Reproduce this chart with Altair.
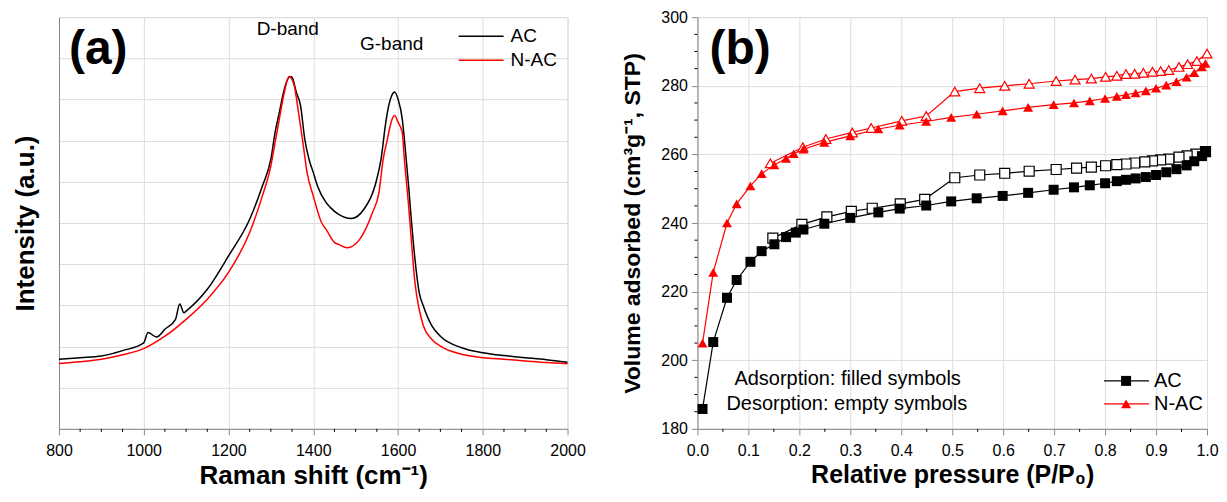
import altair as alt
import pandas as pd

FONT = "Liberation Sans"

# ---------------- (a) Raman spectra ----------------
raman_shift_ac = [800, 850, 900, 950, 1000, 1010, 1030, 1050, 1075, 1085, 1095, 1100, 1150, 1200,
                  1250, 1280, 1300, 1310, 1320, 1330, 1340, 1345, 1350, 1360, 1370, 1380, 1390,
                  1400, 1410, 1430, 1440, 1460, 1490, 1520, 1550, 1560, 1570, 1575, 1585, 1592,
                  1600, 1610, 1615, 1625, 1630, 1640, 1650, 1660, 1680, 1700, 1750, 1800, 1850,
                  1900, 1950, 2000]
intensity_ac = [16.9, 17.3, 17.7, 19.0, 20.9, 23.4, 22.3, 24.2, 26.6, 30.3, 28.2, 28.6, 33.9, 42.0,
                50.9, 59.0, 65.5, 72.0, 76.9, 81.8, 85.0, 85.6, 85.4, 81.8, 78.5, 70.4, 65.5,
                62.3, 59.0, 55.0, 53.8, 52.1, 51.1, 53.4, 60.7, 65.5, 73.6, 76.9, 80.9, 81.8,
                80.1, 75.3, 70.4, 59.0, 52.6, 41.2, 33.1, 29.8, 25.0, 22.5, 19.7, 18.5, 17.8,
                17.3, 16.8, 16.2]

raman_shift_nac = [800, 850, 900, 950, 1000, 1050, 1100, 1150, 1200, 1250, 1280, 1300, 1310, 1320,
                   1330, 1343, 1355, 1365, 1375, 1385, 1400, 1420, 1430, 1450, 1460, 1480, 1510,
                   1540, 1555, 1565, 1575, 1585, 1592, 1600, 1610, 1615, 1625, 1630, 1640, 1650,
                   1660, 1680, 1700, 1750, 1800, 1850, 1900, 1950, 2000]
intensity_nac = [15.9, 16.3, 16.9, 18.0, 19.5, 22.5, 26.6, 31.5, 38.0, 47.7, 56.6, 63.9, 69.6, 75.3,
                 80.9, 85.6, 83.4, 77.0, 70.0, 62.5, 56.6, 50.0, 48.5, 45.3, 44.8, 44.0, 46.1,
                 52.6, 57.4, 65.5, 70.4, 74.9, 76.1, 74.5, 72.0, 65.5, 54.2, 47.7, 35.5, 29.0,
                 25.0, 21.7, 20.1, 18.1, 17.3, 16.9, 16.5, 16.1, 15.8]

raman_minor_ticks = [850, 900, 950, 1050, 1100, 1150, 1250, 1300, 1350, 1450, 1500, 1550,
                     1650, 1700, 1750, 1850, 1900, 1950]

# ---------------- (b) N2 isotherms ----------------
p_ac_ads = [0.010, 0.031, 0.058, 0.077, 0.104, 0.126, 0.151, 0.174, 0.193, 0.208, 0.249, 0.300,
            0.355, 0.397, 0.449, 0.498, 0.548, 0.599, 0.649, 0.699, 0.739, 0.770, 0.800, 0.823,
            0.841, 0.860, 0.880, 0.900, 0.920, 0.940, 0.960, 0.975, 0.990, 0.997]
v_ac_ads = [185.8, 205.3, 218.2, 223.4, 228.7, 231.8, 233.8, 235.9, 237.2, 238.1, 239.8, 241.5,
            243.1, 244.2, 245.1, 246.3, 247.2, 247.9, 248.8, 249.7, 250.4, 251.0, 251.6, 252.2,
            252.6, 253.0, 253.4, 254.0, 254.8, 255.7, 256.8, 258.0, 259.5, 260.8]
p_ac_des = [0.997, 0.978, 0.961, 0.945, 0.925, 0.909, 0.893, 0.878, 0.858, 0.841, 0.823, 0.801,
            0.773, 0.744, 0.704, 0.651, 0.603, 0.554, 0.505, 0.446, 0.398, 0.343, 0.302, 0.254,
            0.205, 0.148]
v_ac_des = [260.8, 260.1, 259.6, 259.2, 258.6, 258.4, 258.1, 257.8, 257.5, 257.2, 257.0, 256.7,
            256.3, 256.0, 255.6, 255.1, 254.5, 254.0, 253.2, 246.9, 245.6, 244.3, 243.4, 241.8,
            239.6, 235.6]

p_nac_ads = [0.010, 0.031, 0.058, 0.077, 0.104, 0.126, 0.151, 0.174, 0.189, 0.208, 0.249, 0.300,
             0.355, 0.397, 0.449, 0.498, 0.548, 0.599, 0.649, 0.699, 0.739, 0.770, 0.800, 0.823,
             0.841, 0.860, 0.880, 0.900, 0.920, 0.940, 0.960, 0.975, 0.990, 0.997]
v_nac_ads = [205.0, 225.6, 240.0, 245.6, 250.8, 254.4, 256.9, 258.8, 260.2, 261.5, 263.5, 265.4,
             267.4, 268.5, 269.6, 270.8, 271.7, 272.7, 273.7, 274.5, 275.0, 275.6, 276.3, 276.9,
             277.4, 277.9, 278.5, 279.3, 280.2, 281.2, 282.5, 283.8, 285.5, 286.5]
p_nac_des = [1.000, 0.980, 0.962, 0.945, 0.925, 0.909, 0.893, 0.875, 0.858, 0.841, 0.823, 0.801,
             0.773, 0.741, 0.704, 0.651, 0.603, 0.554, 0.505, 0.449, 0.401, 0.341, 0.304, 0.252,
             0.207, 0.143]
v_nac_des = [289.4, 287.2, 286.3, 285.5, 284.6, 284.3, 284.1, 283.8, 283.5, 283.4, 282.9, 282.6,
             282.1, 281.8, 281.4, 280.6, 280.0, 279.3, 278.3, 271.2, 269.8, 267.7, 266.4, 264.5,
             262.1, 257.4]

iso_x_minor = [0.05, 0.15, 0.25, 0.35, 0.45, 0.55, 0.65, 0.75, 0.85, 0.95]
iso_y_minor = [185, 190, 195, 205, 210, 215, 225, 230, 235, 245, 250, 255, 265, 270, 275,
               285, 290, 295]

samples = ["AC", "N-AC"]
sample_colors = ["#000000", "#ff0000"]

W, H = 509, 412

# ---------- build tables ----------
raman_df = pd.concat([
    pd.DataFrame({"shift": raman_shift_ac, "intensity": intensity_ac, "sample": "AC"}),
    pd.DataFrame({"shift": raman_shift_nac, "intensity": intensity_nac, "sample": "N-AC"}),
])

def iso(p, v, s, b):
    return pd.DataFrame({"P": p, "V": v, "sample": s, "branch": b})

iso_df = pd.concat([
    iso(p_ac_ads, v_ac_ads, "AC", "ads"),
    iso(p_ac_des, v_ac_des, "AC", "des"),
    iso(p_nac_ads, v_nac_ads, "N-AC", "ads"),
    iso(p_nac_des, v_nac_des, "N-AC", "des"),
])

color_scale = alt.Scale(domain=samples, range=sample_colors)
shape_scale = alt.Scale(domain=samples, range=["square", "triangle-up"])

def one(text):
    return alt.Data(values=[{"t": text}])

def label(text, x, y, size, weight="normal", align="left"):
    return alt.Chart(one(text)).mark_text(
        font=FONT, fontSize=size, fontWeight=weight, align=align, baseline="middle",
        color="black"
    ).encode(x=alt.value(x), y=alt.value(y), text="t:N")

def leg_line(x1, x2, y, color, w=1.5):
    return alt.Chart(one("")).mark_rule(color=color, strokeWidth=w).encode(
        x=alt.value(x1), x2=alt.value(x2), y=alt.value(y))

# ---------- panel (a) ----------
xa = alt.X("shift:Q", scale=alt.Scale(domain=[800, 2000], nice=False),
           axis=alt.Axis(title="Raman shift (cm⁻¹)", values=[800, 1000, 1200, 1400, 1600, 1800, 2000],
                         format="d", tickSize=6, labelPadding=8, titlePadding=4, labelFlush=False,
                         labelFontSize=16, titleFontSize=26, titleFontWeight="bold"))
ya = alt.Y("intensity:Q", scale=alt.Scale(domain=[0, 100], nice=False),
           axis=alt.Axis(title="Intensity (a.u.)", labels=False, ticks=False, tickSize=0,
                         tickOpacity=0, titleFontSize=26, titleFontWeight="bold", titlePadding=20))

lines_a = alt.Chart(raman_df).mark_line(strokeWidth=1.5, interpolate="monotone").encode(
    x=xa, y=ya,
    color=alt.Color("sample:N", scale=color_scale, legend=None),
    order="shift:Q",
)

minor_a = alt.Chart(pd.DataFrame({"v": raman_minor_ticks})).mark_rule(color="black").encode(
    x="v:Q", y=alt.value(H), y2=alt.value(H + 3))

panel_a = alt.layer(
    lines_a, minor_a,
    label("(a)", 10, 33, 48, "bold"),
    label("D-band", 229, 12, 19, align="center"),
    label("G-band", 333, 27, 19, align="center"),
    leg_line(400, 445, 19, "#000000"), label("AC", 452, 19, 19),
    leg_line(400, 445, 43, "#ff0000"), label("N-AC", 452, 43, 19),
).properties(width=W, height=H)

# ---------- panel (b) ----------
xb_axis = alt.Axis(title="Relative pressure (P/P₀)", values=[i / 10 for i in range(11)],
                   format=".1f", tickSize=6, labelPadding=8, titlePadding=4, labelFlush=False,
                   labelFontSize=16, titleFontSize=25, titleFontWeight="bold")
yb_axis = alt.Axis(title="Volume adsorbed (cm³g⁻¹, STP)", values=[180, 200, 220, 240, 260, 280, 300],
                   tickSize=6, labelPadding=4, titlePadding=16, labelFlush=False,
                   labelFontSize=16, titleFontSize=23, titleFontWeight="bold")
xb = alt.X("P:Q", scale=alt.Scale(domain=[0, 1], nice=False), axis=xb_axis)
yb = alt.Y("V:Q", scale=alt.Scale(domain=[180, 300], nice=False), axis=yb_axis)

base_b = alt.Chart(iso_df)
iso_lines = base_b.mark_line(strokeWidth=1.2).encode(
    x=xb, y=yb,
    color=alt.Color("sample:N", scale=color_scale, legend=None),
    detail="branch:N",
    order="P:Q",
)
des_pts = base_b.transform_filter(alt.datum.branch == "des").mark_point(
    filled=False, fill="white", fillOpacity=1, strokeWidth=1.2, opacity=1, size=100
).encode(
    x=xb, y=yb,
    stroke=alt.Stroke("sample:N", scale=color_scale, legend=None),
    shape=alt.Shape("sample:N", scale=shape_scale, legend=None),
)
ads_pts = base_b.transform_filter(alt.datum.branch == "ads").mark_point(
    filled=True, opacity=1, size=100
).encode(
    x=xb, y=yb,
    color=alt.Color("sample:N", scale=color_scale, legend=None),
    shape=alt.Shape("sample:N", scale=shape_scale, legend=None),
)

minor_bx = alt.Chart(pd.DataFrame({"v": iso_x_minor})).mark_rule(color="black").encode(
    x="v:Q", y=alt.value(H), y2=alt.value(H + 3))
minor_by = alt.Chart(pd.DataFrame({"v": iso_y_minor})).mark_rule(color="black").encode(
    y="v:Q", x=alt.value(0), x2=alt.value(-3))

def leg_marker(x, y, color, shape):
    return alt.Chart(one("")).mark_point(filled=True, color=color, shape=shape, size=100,
                                         opacity=1).encode(x=alt.value(x), y=alt.value(y))

panel_b = alt.layer(
    iso_lines, des_pts, ads_pts, minor_bx, minor_by,
    label("(b)", 12, 33, 48, "bold"),
    label("Adsorption: filled symbols", 37, 362, 20),
    label("Desorption: empty symbols", 29, 387, 20),
    leg_line(407, 452, 364, "#000000", 1.2),
    leg_marker(429, 364, "#000000", "square"),
    label("AC", 457, 364, 20),
    leg_line(407, 452, 387, "#ff0000", 1.2),
    leg_marker(429, 387, "#ff0000", "triangle-up"),
    label("N-AC", 457, 387, 20),
).properties(width=510, height=H)

chart = alt.hconcat(panel_a, panel_b, spacing=34).properties(
    padding={"left": 4, "top": 0, "right": 0, "bottom": 0}
).configure_view(stroke="black", strokeWidth=1.2).configure_axis(
    labelFont=FONT, titleFont=FONT, labelColor="black", titleColor="black",
    domainColor="black", tickColor="black", grid=False, domainWidth=1.2
).configure(background="white")

chart.save("out.html", embed_options={"renderer": "svg", "actions": False})
